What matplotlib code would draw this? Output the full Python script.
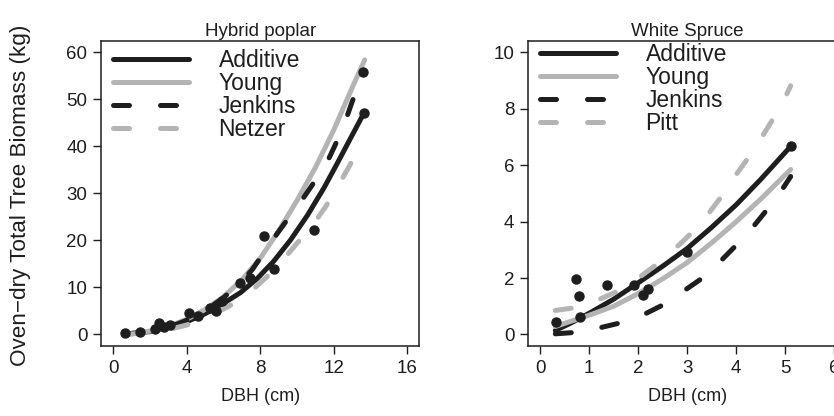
import matplotlib
matplotlib.use("Agg")
import matplotlib.pyplot as plt

# Hybrid poplar observations
poplar_dbh = [0.67, 1.45, 2.3, 2.52, 2.76, 3.12, 4.12, 4.6, 5.26, 5.62, 5.93, 6.88, 7.47, 8.2, 8.74, 10.92, 13.64, 13.6]
poplar_mass = [0.2, 0.5, 1.06, 2.5, 1.6, 2.1, 4.6, 4.0, 5.6, 4.9, 7.1, 10.9, 12.0, 21.0, 13.9, 22.2, 47.1, 55.8]

# Hybrid poplar fitted curves
poplar_add_x = [0.7, 2.0, 3.0, 4.0, 5.0, 6.0, 6.93, 7.84, 8.74, 9.65, 10.56, 11.47, 12.19, 12.92, 13.64]
poplar_add_y = [0.1, 0.6, 1.5, 2.7, 4.4, 6.6, 8.9, 11.9, 15.6, 20.1, 25.3, 31.2, 36.4, 41.8, 47.1]
poplar_young_x = [0.7, 2.0, 3.0, 4.0, 5.0, 6.0, 7.0, 8.0, 9.0, 10.0, 11.0, 12.0, 13.0, 13.68]
poplar_young_y = [0.1, 0.7, 1.7, 3.2, 5.3, 8.0, 11.6, 16.2, 22.0, 28.5, 35.5, 43.5, 52.5, 58.4]
poplar_jenk_x = [0.7, 2.0, 3.0, 4.0, 5.0, 6.0, 7.0, 7.57, 8.93, 9.47, 10.2, 10.83, 11.74, 12.1, 12.55, 13.0, 13.6]
poplar_jenk_y = [0.05, 0.6, 1.5, 3.0, 5.0, 7.8, 11.3, 13.8, 21.5, 24.4, 28.2, 31.8, 37.5, 40.5, 44.5, 49.5, 55.8]
poplar_netz_x = [0.7, 2.0, 3.0, 4.0, 5.0, 6.29, 7.2, 8.29, 9.02, 10.0, 10.74, 11.56, 12.1, 12.83, 13.37]
poplar_netz_y = [0.03, 0.35, 1.0, 2.0, 3.4, 6.0, 8.1, 12.0, 14.8, 19.4, 22.6, 27.2, 30.7, 35.7, 39.6]

# White spruce observations
spruce_dbh = [0.33, 0.74, 0.80, 0.82, 1.36, 1.91, 2.10, 2.20, 3.0, 5.11]
spruce_mass = [0.44, 1.97, 1.38, 0.62, 1.76, 1.76, 1.39, 1.62, 2.91, 6.67]

# White spruce fitted curves
spruce_add_x = [0.31, 0.6, 1.0, 1.5, 2.0, 2.5, 3.0, 3.5, 4.0, 4.5, 5.11]
spruce_add_y = [0.14, 0.38, 0.75, 1.25, 1.83, 2.42, 3.05, 3.8, 4.6, 5.5, 6.67]
spruce_young_x = [0.31, 0.6, 1.0, 1.5, 2.0, 2.5, 3.0, 3.5, 4.0, 4.5, 5.11]
spruce_young_y = [0.28, 0.45, 0.68, 1.0, 1.45, 1.97, 2.55, 3.25, 4.0, 4.8, 5.85]
spruce_jenk_x = [0.31, 0.7, 1.0, 1.23, 1.64, 2.11, 2.52, 2.97, 3.31, 3.68, 4.02, 4.36, 4.64, 4.94, 5.11]
spruce_jenk_y = [0.02, 0.07, 0.15, 0.24, 0.41, 0.70, 1.06, 1.59, 2.0, 2.6, 3.2, 3.85, 4.45, 5.15, 5.6]
spruce_pitt_x = [0.31, 0.68, 1.23, 1.54, 2.05, 2.39, 2.85, 3.16, 3.44, 3.68, 3.99, 4.26, 4.54, 4.75, 5.01, 5.11]
spruce_pitt_y = [0.85, 0.94, 1.26, 1.5, 2.06, 2.5, 3.2, 3.72, 4.3, 4.85, 5.65, 6.3, 7.05, 7.64, 8.45, 8.82]

BLACK = "#1e1e1e"
GREY = "#b4b4b4"
LW = 3.6
DASH = (0, (3.2, 6.2))
FONT = ["Liberation Sans", "DejaVu Sans"]

plt.rcParams["font.family"] = FONT

fig = plt.figure(figsize=(8.34, 4.16), dpi=100)
ax1 = fig.add_axes([0.1215, 0.169, 0.381, 0.732])
ax2 = fig.add_axes([0.6335, 0.169, 0.381, 0.732])


def draw_panel(ax, obs_x, obs_y, curves, title, xlim, ylim, xticks, yticks, leg_y):
    for (cx, cy, color, style, name) in curves:
        ax.plot(cx, cy, color=color, lw=LW, linestyle=style, label=name,
                solid_capstyle="round", dash_capstyle="round",
                solid_joinstyle="round")
    ax.plot(obs_x, obs_y, "o", color=BLACK, markersize=6.5, zorder=5)

    # R style axes: 4% padding around the data range
    pad_x = (xlim[1] - xlim[0]) * 0.04
    pad_y = (ylim[1] - ylim[0]) * 0.04
    ax.set_xlim(xlim[0] - pad_x, xlim[1] + pad_x)
    ax.set_ylim(ylim[0] - pad_y, ylim[1] + pad_y)
    ax.set_xticks(xticks)
    ax.set_yticks(yticks)
    ax.tick_params(direction="out", length=6, width=1, pad=4, labelsize=13.5,
                   top=False, right=False, colors=BLACK)
    for sp in ax.spines.values():
        sp.set_linewidth(1.1)
        sp.set_color(BLACK)

    ax.set_title(title, fontsize=13.5, pad=4, color=BLACK)
    ax.set_xlabel("DBH (cm)", fontsize=13, labelpad=8, color=BLACK)

    leg = ax.legend(loc="upper left", bbox_to_anchor=(0.037, leg_y), frameon=False,
                    fontsize=16.5, handlelength=3.3, handletextpad=1.3,
                    labelspacing=0.0, borderpad=0, borderaxespad=0)
    for t in leg.get_texts():
        t.set_color(BLACK)


draw_panel(ax1, poplar_dbh, poplar_mass,
           [(poplar_add_x, poplar_add_y, BLACK, "-", "Additive"),
            (poplar_young_x, poplar_young_y, GREY, "-", "Young"),
            (poplar_jenk_x, poplar_jenk_y, BLACK, DASH, "Jenkins"),
            (poplar_netz_x, poplar_netz_y, GREY, DASH, "Netzer")],
           "Hybrid poplar", (0, 16), (0, 60), [0, 4, 8, 12, 16],
           [0, 10, 20, 30, 40, 50, 60], 0.975)

draw_panel(ax2, spruce_dbh, spruce_mass,
           [(spruce_add_x, spruce_add_y, BLACK, "-", "Additive"),
            (spruce_young_x, spruce_young_y, GREY, "-", "Young"),
            (spruce_jenk_x, spruce_jenk_y, BLACK, DASH, "Jenkins"),
            (spruce_pitt_x, spruce_pitt_y, GREY, DASH, "Pitt")],
           "White Spruce", (0, 6), (0, 10), [0, 1, 2, 3, 4, 5, 6],
           [0, 2, 4, 6, 8, 10], 0.995)

fig.text(0.024, 0.53, "Oven\u2212dry Total Tree Biomass (kg)", rotation=90,
         ha="center", va="center", fontsize=16.2, color=BLACK)

fig.savefig("out.png", dpi=100)
